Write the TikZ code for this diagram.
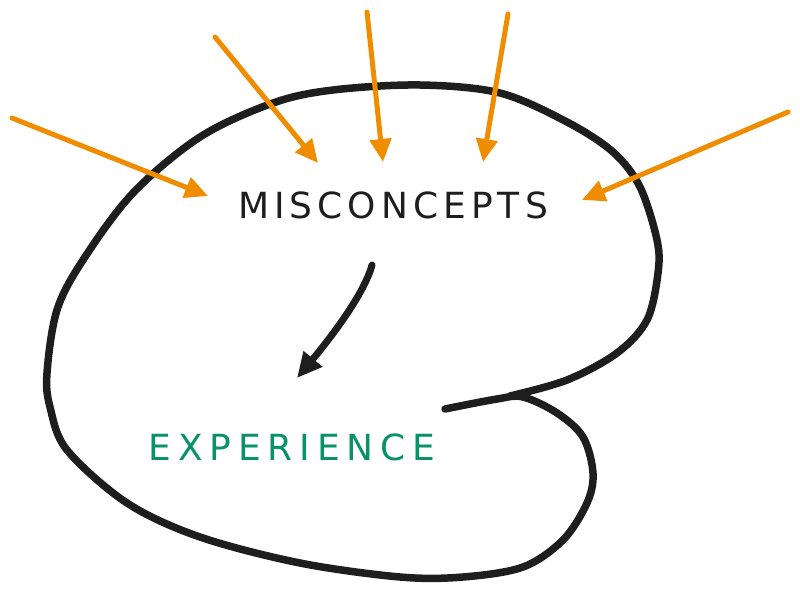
\documentclass[tikz,border=0pt]{standalone}
\usepackage{fontspec}
\usetikzlibrary{arrows.meta,positioning}
\newfontfamily\sketchfont[LetterSpace=14]{DejaVu Sans}
\newfontfamily\sketchwide[LetterSpace=19]{DejaVu Sans}
\definecolor{inkblack}{HTML}{1E1E1E}
\definecolor{inkorange}{HTML}{F08C00}
\definecolor{inkgreen}{HTML}{099268}

\begin{document}
\begin{tikzpicture}[
    x=1pt, y=-1pt,
    label/.style={inner sep=0pt, font=\fontsize{36}{40}\selectfont},
    inflow/.style={-{Triangle[length=23pt,width=21pt]}, line width=5pt, inkorange, line cap=round},
    outflow/.style={-{Triangle[length=25pt,width=23pt]}, line width=7pt, inkblack, line cap=round},
    outline/.style={line width=7.5pt, inkblack, line cap=round, line join=round}
]
    \useasboundingbox (0,0) rectangle (800,594);

    % --- Blob outline ---
    \draw[outline] plot[smooth, tension=0.55] coordinates {
        (445,409) (497,399) (523,397) (557,413) (583,437) (593,473) (587,503)
        (563,540) (523,567) (463,577) (400,577) (300,563) (200,537) (127,503)
        (67,450) (50,407) (47,373) (57,310) (83,260) (133,193) (200,137)
        (273,103) (333,90) (420,85) (500,93) (567,122) (613,152) (640,187)
        (657,240) (658,273) (647,320) (617,353) (567,380) (510,396)};

    % --- Labels ---
    \node[label, inkblack] (misc) at (393,205) {\sketchfont MISCONCEPTS};
    \node[label, inkgreen] (exper) at (292,447) {\sketchwide EXPERIENCE};

    % --- Incoming arrows ---
    \coordinate (in1) at (12,118);   \coordinate (hit1) at (208,196);
    \coordinate (in2) at (215,37);   \coordinate (hit2) at (318,163);
    \coordinate (in3) at (367,12);   \coordinate (hit3) at (383,162);
    \coordinate (in4) at (508,14);   \coordinate (hit4) at (483,162);
    \coordinate (in5) at (788,112);  \coordinate (hit5) at (582,200);
    \foreach \i in {1,...,5}
        \draw[inflow] (in\i) -- (hit\i);

    % --- Misconcepts towards experience ---
    \coordinate (from) at (372,265);
    \coordinate (to) at (297,378);
    \draw[outflow] (from) .. controls (365,292) and (333,335) .. (to);
\end{tikzpicture}
\end{document}
